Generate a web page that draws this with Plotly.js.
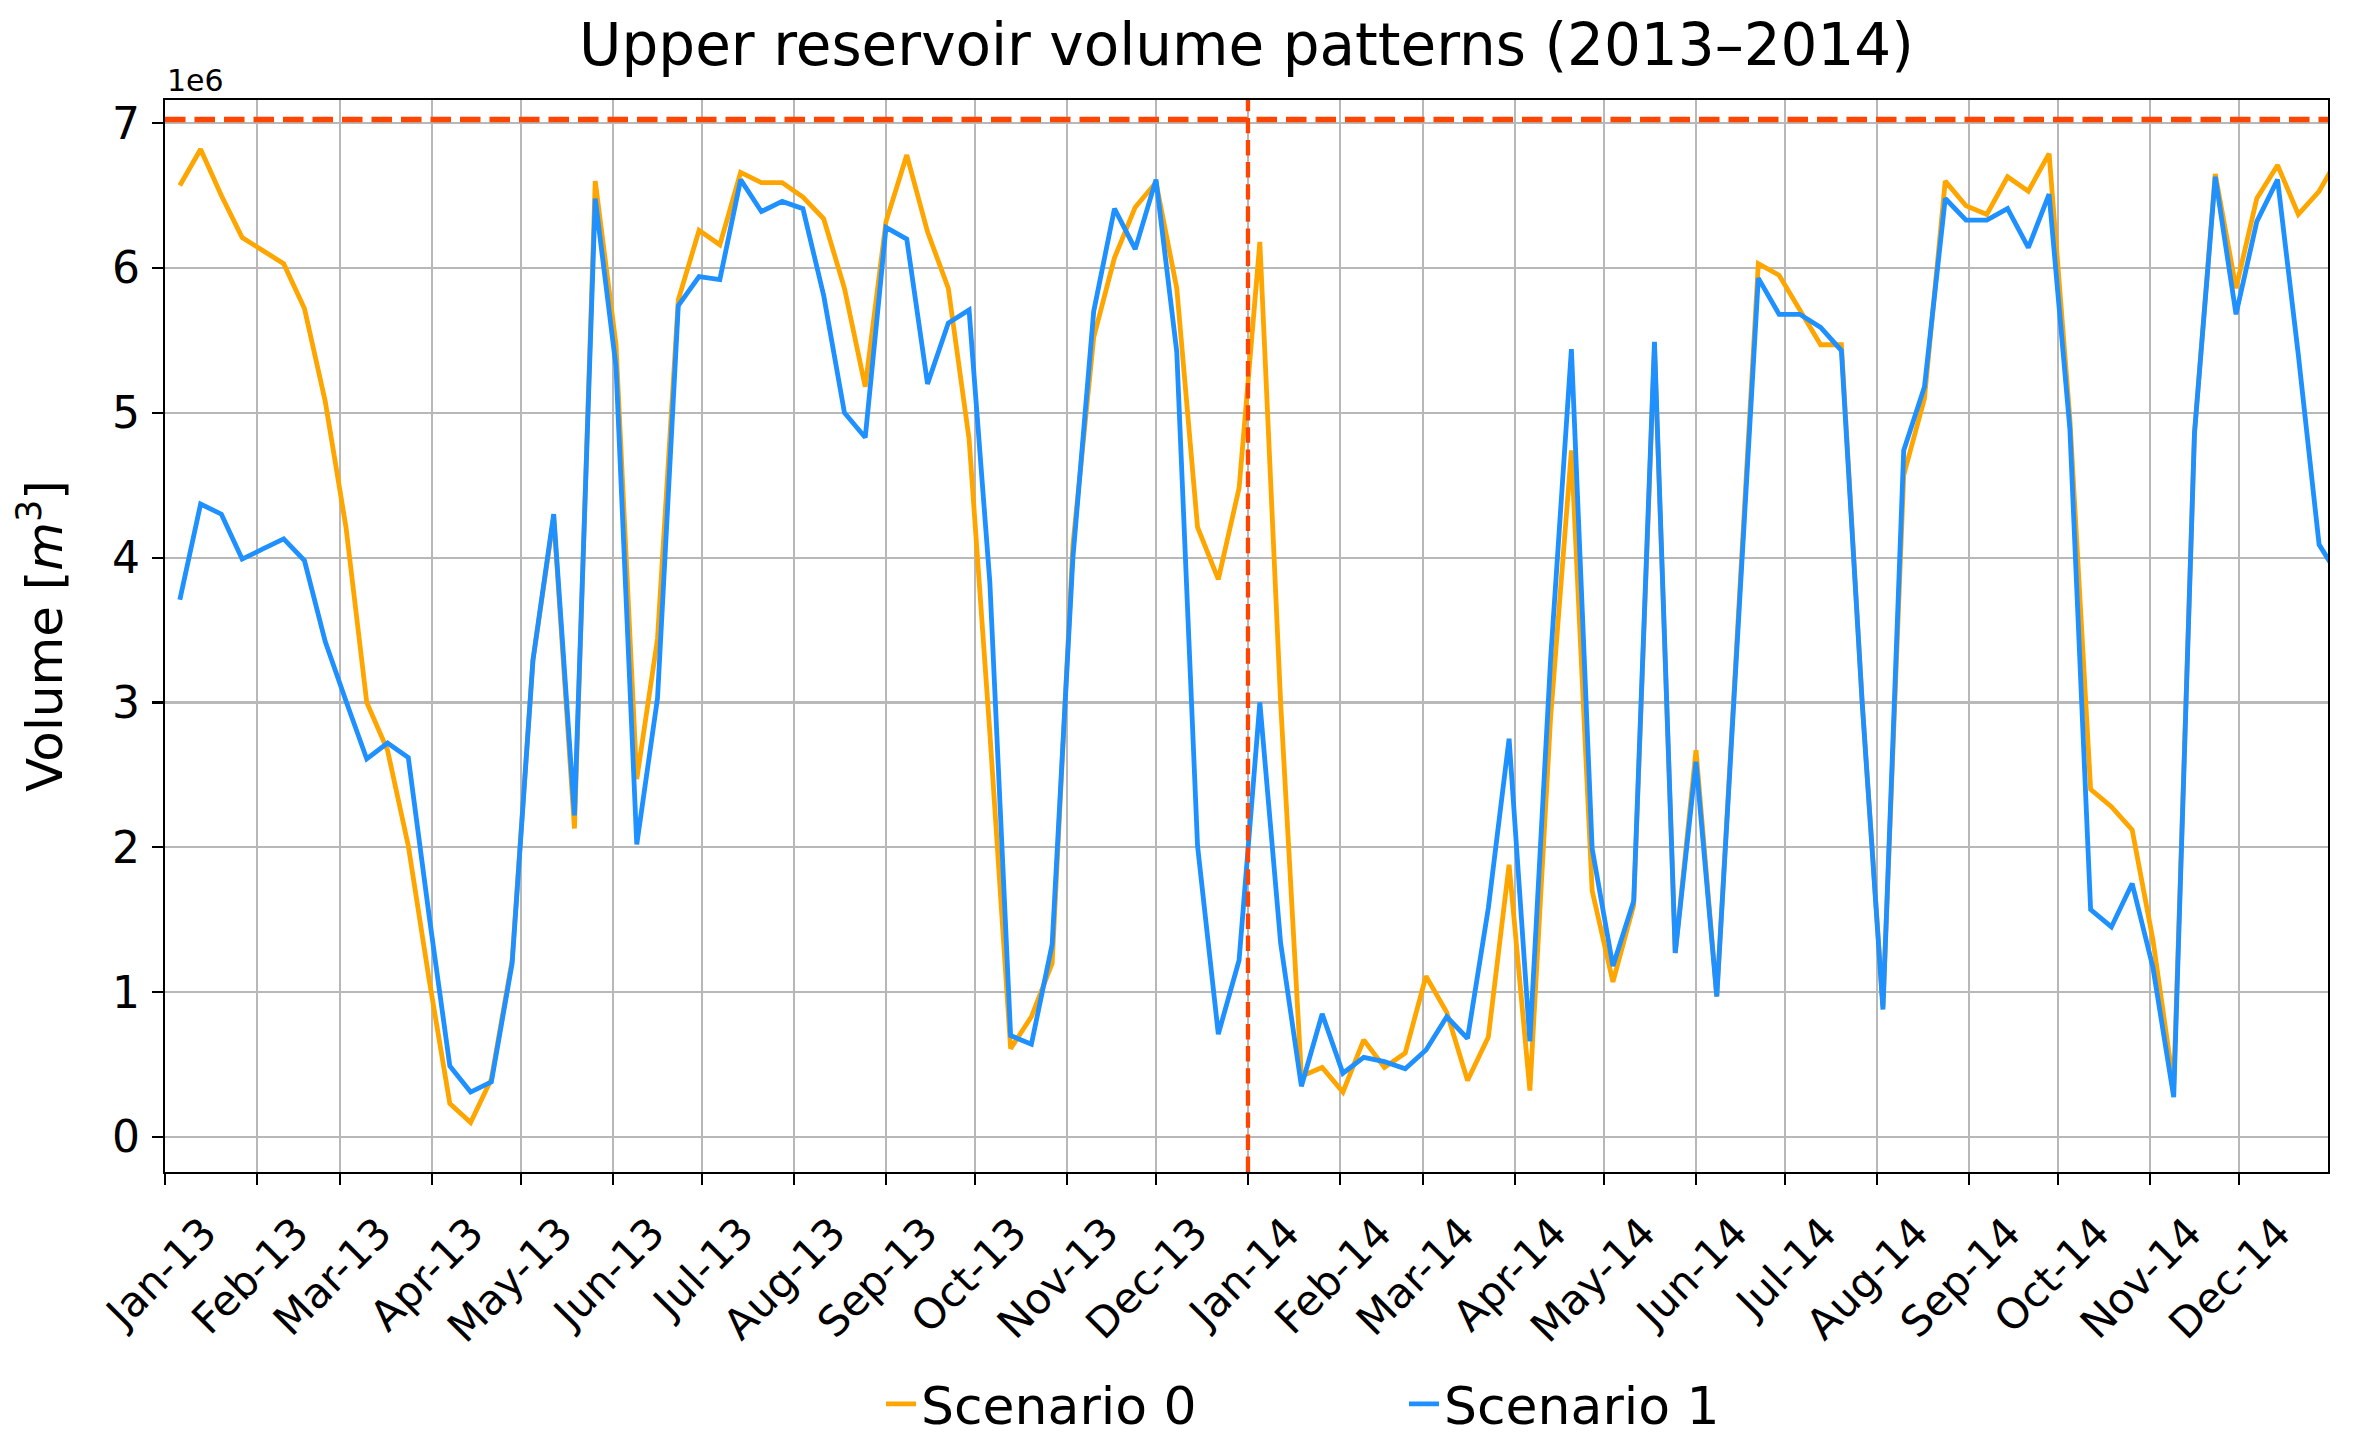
<!DOCTYPE html>
<html>
<head>
<meta charset="utf-8">
<script src="https://cdn.plot.ly/plotly-3.0.1.min.js"></script>
<style>
  html, body { margin: 0; padding: 0; background: #ffffff; }
  #chart { width: 2353px; height: 1441px; }
</style>
</head>
<body>
<div id="chart"></div>
<script>
// ---- data (volumes in units of 1e6 m^3), weekly samples ----
const dates = [
  "2013-01-06","2013-01-13","2013-01-20","2013-01-27","2013-02-03","2013-02-10","2013-02-17","2013-02-24",
  "2013-03-03","2013-03-10","2013-03-17","2013-03-24","2013-03-31","2013-04-07","2013-04-14","2013-04-21",
  "2013-04-28","2013-05-05","2013-05-12","2013-05-19","2013-05-26","2013-06-02","2013-06-09","2013-06-16",
  "2013-06-23","2013-06-30","2013-07-07","2013-07-14","2013-07-21","2013-07-28","2013-08-04","2013-08-11",
  "2013-08-18","2013-08-25","2013-09-01","2013-09-08","2013-09-15","2013-09-22","2013-09-29","2013-10-06",
  "2013-10-13","2013-10-20","2013-10-27","2013-11-03","2013-11-10","2013-11-17","2013-11-24","2013-12-01",
  "2013-12-08","2013-12-15","2013-12-22","2013-12-29",
  "2014-01-05","2014-01-12","2014-01-19","2014-01-26","2014-02-02","2014-02-09","2014-02-16","2014-02-23",
  "2014-03-02","2014-03-09","2014-03-16","2014-03-23","2014-03-30","2014-04-06","2014-04-13","2014-04-20",
  "2014-04-27","2014-05-04","2014-05-11","2014-05-18","2014-05-25","2014-06-01","2014-06-08","2014-06-15",
  "2014-06-22","2014-06-29","2014-07-06","2014-07-13","2014-07-20","2014-07-27","2014-08-03","2014-08-10",
  "2014-08-17","2014-08-24","2014-08-31","2014-09-07","2014-09-14","2014-09-21","2014-09-28","2014-10-05",
  "2014-10-12","2014-10-19","2014-10-26","2014-11-02","2014-11-09","2014-11-16","2014-11-23","2014-11-30",
  "2014-12-07","2014-12-14","2014-12-21","2014-12-28","2015-01-04"
];

const scenario0 = [
  6.57, 6.82, 6.50, 6.21, 6.12, 6.03, 5.72, 5.08, 4.21, 3.00,
  2.67, 2.01, 1.09, 0.23, 0.10, 0.40, 1.22, 3.29, 4.28, 2.13,
  6.60, 5.47, 2.47, 3.44, 5.78, 6.26, 6.16, 6.66, 6.59, 6.59,
  6.49, 6.34, 5.86, 5.18, 6.32, 6.78, 6.25, 5.86, 4.82, 2.79,
  0.61, 0.83, 1.20, 4.09, 5.52, 6.07, 6.42, 6.59, 5.86, 4.21,
  3.85, 4.48, 6.18, 3.00, 0.42, 0.48, 0.31, 0.67, 0.48, 0.58,
  1.11, 0.86, 0.39, 0.69, 1.88, 0.32, 2.90, 4.74, 1.70, 1.07,
  1.60, 5.45, 1.27, 2.67, 0.97, 3.45, 6.03, 5.95, 5.71, 5.47,
  5.47, 3.00, 0.90, 4.57, 5.10, 6.60, 6.43, 6.37, 6.63, 6.53,
  6.79, 4.96, 2.40, 2.28, 2.12, 1.36, 0.35, 4.86, 6.65, 5.86,
  6.48, 6.71, 6.37, 6.53, 6.78
];

const scenario1 = [
  3.71, 4.37, 4.30, 3.99, 4.06, 4.13, 3.98, 3.42, 3.01, 2.61,
  2.72, 2.62, 1.53, 0.49, 0.31, 0.38, 1.20, 3.29, 4.30, 2.22,
  6.48, 5.32, 2.02, 3.03, 5.74, 5.94, 5.92, 6.61, 6.39, 6.46,
  6.41, 5.81, 5.00, 4.83, 6.28, 6.20, 5.20, 5.62, 5.71, 3.83,
  0.70, 0.64, 1.33, 4.00, 5.70, 6.41, 6.13, 6.61, 5.42, 2.01,
  0.71, 1.22, 3.00, 1.34, 0.35, 0.85, 0.44, 0.55, 0.52, 0.47,
  0.60, 0.83, 0.68, 1.58, 2.75, 0.66, 3.30, 5.44, 1.99, 1.18,
  1.63, 5.49, 1.27, 2.59, 0.97, 3.45, 5.93, 5.68, 5.68, 5.59,
  5.43, 3.00, 0.88, 4.74, 5.18, 6.48, 6.33, 6.33, 6.41, 6.14,
  6.51, 4.89, 1.57, 1.45, 1.75, 1.17, 0.275, 4.86, 6.63, 5.68,
  6.32, 6.61, 5.40, 4.09, 3.86
];

const seriesNames = ["Scenario 0", "Scenario 1"];
const maxVolume = 7.025;         // upper reservoir capacity (1e6 m^3)
const yearBoundary = "2014-01-01";
const xRange = ["2013-01-01", "2014-12-31"];
const yTicks = [0, 1, 2, 3, 4, 5, 6, 7];

const FONT = "DejaVu Sans, Liberation Sans, sans-serif";

const traces = [
  { x: dates, y: scenario0, name: seriesNames[0], type: "scatter", mode: "lines",
    line: { color: "#FFA500", width: 4.8 } },
  { x: dates, y: scenario1, name: seriesNames[1], type: "scatter", mode: "lines",
    line: { color: "#1E90FF", width: 4.8 } }
];

const layout = {
  width: 2353, height: 1441,
  paper_bgcolor: "#ffffff", plot_bgcolor: "#ffffff",
  margin: { l: 165, r: 25, t: 100, b: 269, pad: 0, autoexpand: false },
  font: { family: FONT, color: "#000000" },
  title: {
    text: "Upper reservoir volume patterns (2013–2014)",
    x: 0.5, xref: "paper", xanchor: "center",
    y: 1 - 45 / 1441, yref: "container", yanchor: "middle",
    font: { family: FONT, size: 58, color: "#000000" }
  },
  xaxis: {
    type: "date",
    range: xRange,
    tick0: "2013-01-01", dtick: "M1", tickformat: "%b-%y",
    tickangle: -45,
    tickfont: { family: FONT, size: 42, color: "#000000" },
    ticklabelshift: 39,
    ticklabelstandoff: 6,
    ticks: "outside", ticklen: 11, tickwidth: 2.2, tickcolor: "#000000",
    showgrid: true, gridcolor: "#b8b8b8", gridwidth: 2.2,
    showline: true, linecolor: "#000000", linewidth: 2.2, mirror: true,
    zeroline: false, automargin: false
  },
  yaxis: {
    range: [-0.242, 7.16],
    tickvals: yTicks,
    ticktext: yTicks.map(String),
    tickfont: { family: FONT, size: 44, color: "#000000" },
    ticklabelstandoff: 3,
    ticks: "outside", ticklen: 11, tickwidth: 2.2, tickcolor: "#000000",
    showgrid: true, gridcolor: "#b8b8b8", gridwidth: 2.2,
    showline: true, linecolor: "#000000", linewidth: 2.2, mirror: true,
    zeroline: false, automargin: false
  },
  showlegend: true,
  legend: {
    orientation: "h",
    xref: "container", x: (921 - 40) / 2353, xanchor: "left",
    yref: "container", y: 1 - 1404 / 1441, yanchor: "middle",
    font: { family: FONT, size: 52, color: "#000000" },
    entrywidth: 478, entrywidthmode: "pixels",
    bgcolor: "rgba(0,0,0,0)", borderwidth: 0
  },
  shapes: [
    { type: "line", xref: "paper", x0: 0, x1: 1, yref: "y", y0: maxVolume, y1: maxVolume,
      line: { color: "#FF4500", width: 5.6, dash: "20.5px,9px" }, layer: "above" },
    { type: "line", xref: "x", x0: yearBoundary, x1: yearBoundary, yref: "paper", y0: 0, y1: 1,
      line: { color: "#FF4500", width: 4.3, dash: "15.4px,6.7px" }, layer: "above" }
  ],
  annotations: [
    { text: "1e6", xref: "paper", x: 0, xanchor: "left",
      yref: "paper", y: (1172 - 81) / 1071.5, yanchor: "middle",
      showarrow: false, font: { family: FONT, size: 30, color: "#000000" } },
    { text: "Volume [<i>m</i><sup>3</sup>]", xref: "paper", x: (41 - 165) / 2163, xanchor: "center",
      yref: "paper", y: 0.5, yanchor: "middle", textangle: -90,
      showarrow: false, font: { family: FONT, size: 50, color: "#000000" } }
  ]
};

Plotly.newPlot("chart", traces, layout, { displayModeBar: false, staticPlot: true });
</script>
</body>
</html>
